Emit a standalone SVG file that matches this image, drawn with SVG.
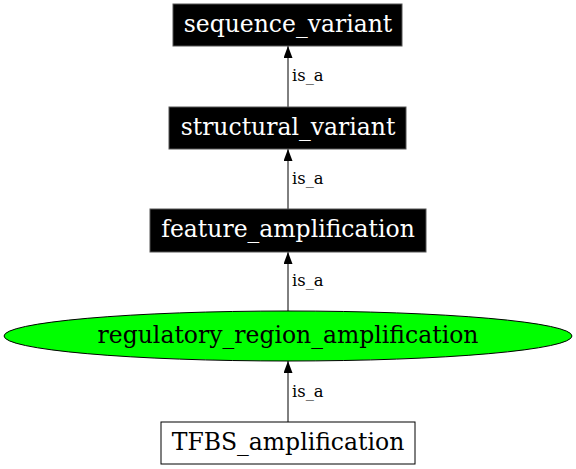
<svg xmlns="http://www.w3.org/2000/svg" width="576" height="469" viewBox="0 0 576 469">
<defs>
<style>
.n{font-family:"DejaVu Serif",serif;font-size:23.5px;text-anchor:middle}
.w{fill:#ffffff}
.k{fill:#000000}
.l{font-family:"DejaVu Serif",serif;font-size:16.4px;fill:#000}
.e{stroke:#000;stroke-width:1;fill:none}
</style>
<marker id="ah" markerWidth="12" markerHeight="9" refX="12" refY="4.5" orient="auto" markerUnits="userSpaceOnUse" viewBox="0 0 12 9">
<path d="M0,0 L12,4.5 L0,9 z" fill="#000"/>
</marker>
</defs>
<rect width="576" height="469" fill="#fff"/>
<g id="connectors">
<line class="e" x1="288" y1="107" x2="288" y2="46" marker-end="url(#ah)"/>
<text class="l" x="292" y="81">is_a</text>
<line class="e" x1="288" y1="209" x2="288" y2="149" marker-end="url(#ah)"/>
<text class="l" x="292" y="184">is_a</text>
<line class="e" x1="288" y1="311" x2="288" y2="252" marker-end="url(#ah)"/>
<text class="l" x="292" y="286">is_a</text>
<line class="e" x1="288" y1="422" x2="288" y2="361" marker-end="url(#ah)"/>
<text class="l" x="292" y="397">is_a</text>
</g>
<g id="sequence_variant">
<rect x="173" y="4" width="229" height="42" fill="#000" stroke="#555"/>
<text class="n w" x="288" y="32">sequence_variant</text>
</g>
<g id="structural_variant">
<rect x="169" y="107" width="237" height="42" fill="#000" stroke="#555"/>
<text class="n w" x="288" y="135">structural_variant</text>
</g>
<g id="feature_amplification">
<rect x="150" y="209" width="276" height="43" fill="#000" stroke="#555"/>
<text class="n w" x="288" y="237">feature_amplification</text>
</g>
<g id="regulatory_region_amplification">
<ellipse cx="288" cy="336" rx="284" ry="25" fill="#00ff00" stroke="#000"/>
<text class="n k" x="288" y="343">regulatory_region_amplification</text>
</g>
<g id="TFBS_amplification">
<rect x="161" y="422" width="254" height="42" fill="#fff" stroke="#000"/>
<text class="n k" x="288" y="450">TFBS_amplification</text>
</g>
</svg>
